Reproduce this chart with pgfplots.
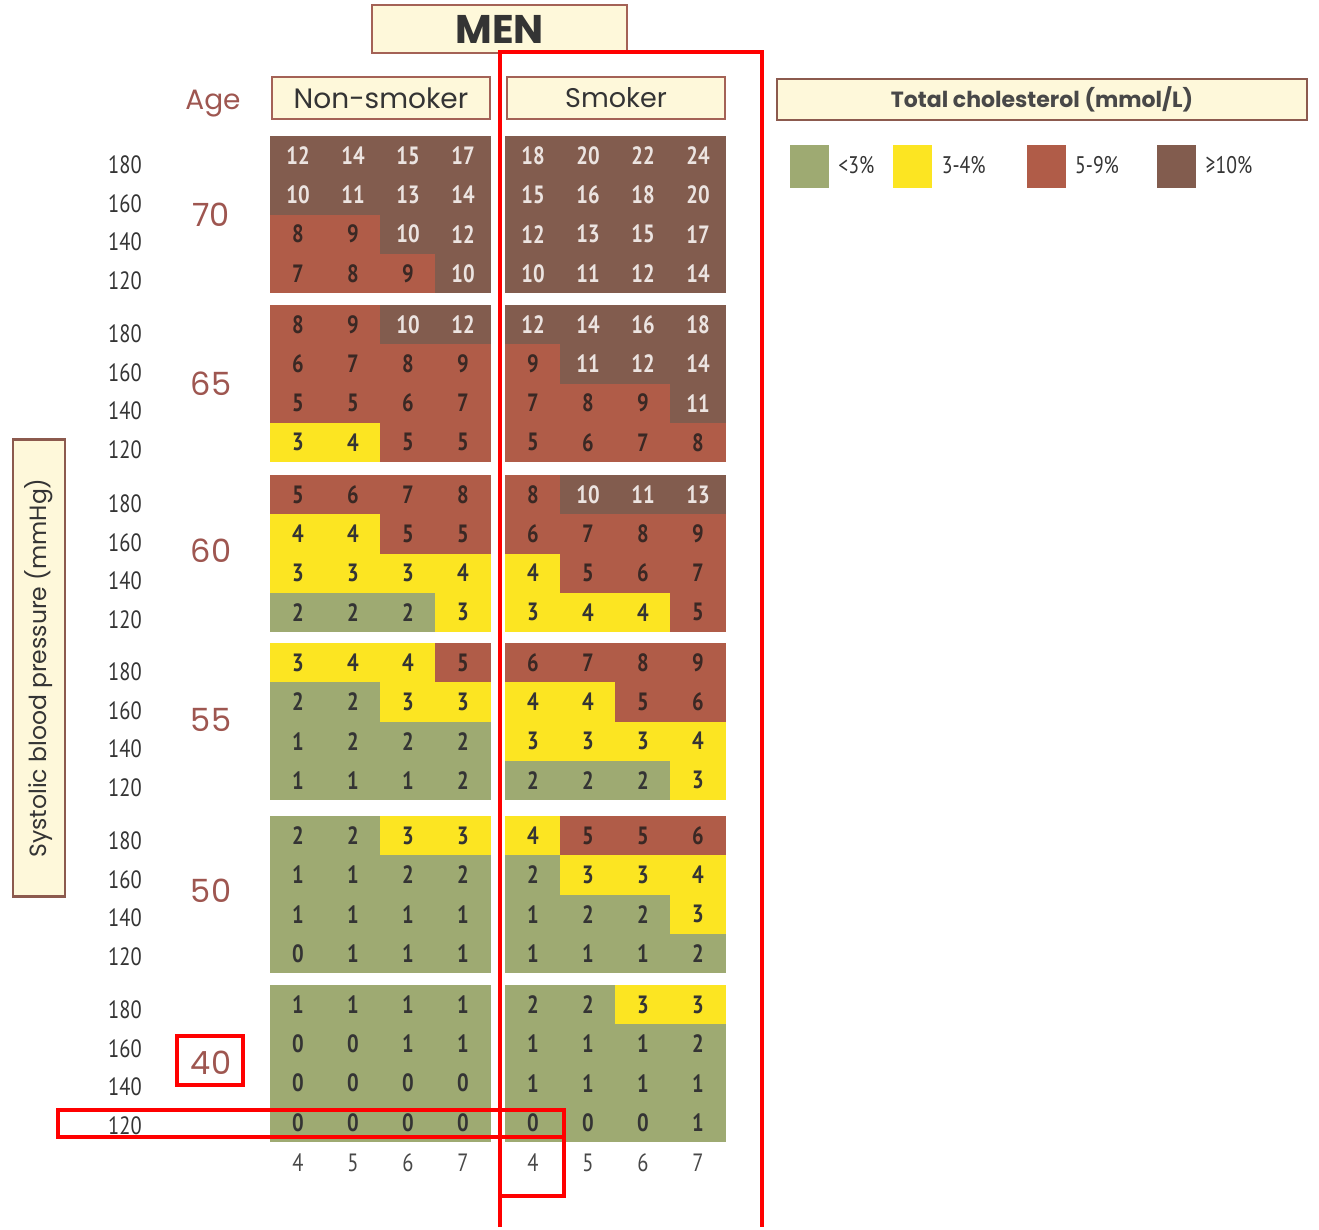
\documentclass[border=0pt]{standalone}
\usepackage{fontspec}
\setmainfont{Poppins}
\newfontfamily\numfont[FakeStretch=0.82]{PT Sans}
\usepackage{pgfplots}
\usepackage{pgfplotstable}
\pgfplotsset{compat=1.18}

\definecolor{riskA}{RGB}{158,170,114}
\definecolor{riskB}{RGB}{252,229,34}
\definecolor{riskC}{RGB}{176,92,72}
\definecolor{riskD}{RGB}{130,92,78}
\definecolor{cream}{RGB}{254,248,218}
\definecolor{boxline}{RGB}{164,98,86}
\definecolor{boxline2}{RGB}{140,90,78}
\definecolor{agecol}{RGB}{158,86,80}
\definecolor{ink}{RGB}{52,52,52}
\definecolor{inkred}{RGB}{58,40,36}
\definecolor{inkbrown}{RGB}{236,228,225}

% one cell of the chart, 55 x 39.25 px
\pgfdeclareplotmark{cell}{%
  \pgfpathrectangle{\pgfpoint{-27.7pt}{-19.8pt}}{\pgfpoint{55.4pt}{39.6pt}}%
  \pgfusepath{fill}}

% smk: 0 non-smoker, 1 smoker; r4..r7: 10-year risk (%) at total cholesterol 4..7 mmol/L
\pgfplotstableread{
smk age sbp r4 r5 r6 r7
0 70 180 12 14 15 17
0 70 160 10 11 13 14
0 70 140  8  9 10 12
0 70 120  7  8  9 10
0 65 180  8  9 10 12
0 65 160  6  7  8  9
0 65 140  5  5  6  7
0 65 120  3  4  5  5
0 60 180  5  6  7  8
0 60 160  4  4  5  5
0 60 140  3  3  3  4
0 60 120  2  2  2  3
0 55 180  3  4  4  5
0 55 160  2  2  3  3
0 55 140  1  2  2  2
0 55 120  1  1  1  2
0 50 180  2  2  3  3
0 50 160  1  1  2  2
0 50 140  1  1  1  1
0 50 120  0  1  1  1
0 40 180  1  1  1  1
0 40 160  0  0  1  1
0 40 140  0  0  0  0
0 40 120  0  0  0  0
1 70 180 18 20 22 24
1 70 160 15 16 18 20
1 70 140 12 13 15 17
1 70 120 10 11 12 14
1 65 180 12 14 16 18
1 65 160  9 11 12 14
1 65 140  7  8  9 11
1 65 120  5  6  7  8
1 60 180  8 10 11 13
1 60 160  6  7  8  9
1 60 140  4  5  6  7
1 60 120  3  4  4  5
1 55 180  6  7  8  9
1 55 160  4  4  5  6
1 55 140  3  3  3  4
1 55 120  2  2  2  3
1 50 180  4  5  5  6
1 50 160  2  3  3  4
1 50 140  1  2  2  3
1 50 120  1  1  1  2
1 40 180  2  2  3  3
1 40 160  1  1  1  2
1 40 140  1  1  1  1
1 40 120  0  0  0  1
}\risktab

% #1 cholesterol column, #2 risk range, #3 cell colour, #4 text colour
\newcommand\riskcells[4]{%
  \addplot[forget plot, only marks, mark=cell, mark options={fill=#3},
    restrict expr to domain={\thisrow{r#1}}{#2},
    point meta=explicit symbolic, nodes near coords,
    every node near coord/.append style={anchor=center, inner sep=0pt,
      text=#4, font=\numfont\bfseries\fontsize{25}{25}\selectfont}]
    table[x expr={298+55*(#1-4)+235*\thisrow{smk}},
      y expr={(\thisrow{age}==70 ? 136 : (\thisrow{age}==65 ? 305 :
              (\thisrow{age}==60 ? 475 : (\thisrow{age}==55 ? 643 :
              (\thisrow{age}==50 ? 816 : 985)))))
              + (180-\thisrow{sbp})*1.9625 + 19.6},
      meta=r#1] {\risktab};
}

\begin{document}
\begin{tikzpicture}
\begin{axis}[
  scale only axis, width=1319pt, height=1227pt,
  xmin=0, xmax=1319, ymin=0, ymax=1227, y dir=reverse,
  hide axis, clip=false,
  legend columns=4,
  legend style={at={(axis cs:790,166)}, anchor=west, draw=none, fill=none,
    inner sep=0pt, outer sep=0pt, text=ink,
    font=\numfont\fontsize{24}{24}\selectfont,
    cells={inner sep=0pt, anchor=west},
    /tikz/every odd column/.append style={column sep=8pt},
    /tikz/every even column/.append style={column sep=0pt}},
]
\addplot[forget plot, draw=none] coordinates {(0,0) (1319,1227)};

\pgfplotsinvokeforeach{4,5,6,7}{
  \riskcells{#1}{0:2}{riskA}{ink}
  \riskcells{#1}{3:4}{riskB}{ink}
  \riskcells{#1}{5:9}{riskC}{inkred}
  \riskcells{#1}{10:99}{riskD}{inkbrown}
}

\addlegendimage{legend image code/.code={\fill[riskA] (0pt,-21pt) rectangle (38pt,21pt);}}
\addlegendentry{\makebox[53pt][l]{<3\%}}
\addlegendimage{legend image code/.code={\fill[riskB] (0pt,-21pt) rectangle (38pt,21pt);}}
\addlegendentry{\makebox[83pt][l]{3-4\%}}
\addlegendimage{legend image code/.code={\fill[riskC] (0pt,-21pt) rectangle (38pt,21pt);}}
\addlegendentry{\makebox[80pt][l]{5-9\%}}
\addlegendimage{legend image code/.code={\fill[riskD] (0pt,-21pt) rectangle (38pt,21pt);}}
\addlegendentry{\makebox[50pt][l]{≥10\%}}

% headers
\node[draw=boxline, line width=2.5pt, fill=cream, minimum width=255pt, minimum height=48pt,
  font=\fontsize{40}{40}\selectfont\bfseries, text=ink] at (axis cs:499.5,29) {MEN};
\node[draw=boxline, line width=2.5pt, fill=cream, minimum width=218pt, minimum height=42pt,
  font=\fontsize{28}{28}\selectfont, text=ink] at (axis cs:381,98) {Non-smoker};
\node[draw=boxline, line width=2.5pt, fill=cream, minimum width=218pt, minimum height=42pt,
  font=\fontsize{27}{27}\selectfont, text=ink] at (axis cs:616,98) {Smoker};
\node[draw=boxline2, line width=2.5pt, fill=cream, minimum width=530pt, minimum height=41pt,
  font=\fontsize{22}{22}\selectfont\bfseries, text=ink!90] at (axis cs:1042,99.5) {Total cholesterol (mmol/L)};
\node[draw=boxline2, line width=2.5pt, fill=cream, minimum width=457pt, minimum height=52pt,
  rotate=90, font=\fontsize{23.5}{23.5}\selectfont, text=ink] at (axis cs:39,668) {Systolic blood pressure (mmHg)};

% age labels
\node[font=\fontsize{28}{28}\selectfont, text=agecol] at (axis cs:213,104) {Age};
\node[font=\fontsize{32}{32}\selectfont, text=agecol] at (axis cs:211,215) {70};
\node[font=\fontsize{32}{32}\selectfont, text=agecol] at (axis cs:211,384) {65};
\node[font=\fontsize{32}{32}\selectfont, text=agecol] at (axis cs:211,551) {60};
\node[font=\fontsize{32}{32}\selectfont, text=agecol] at (axis cs:211,720) {55};
\node[font=\fontsize{32}{32}\selectfont, text=agecol] at (axis cs:211,891) {50};
\node[font=\fontsize{32}{32}\selectfont, text=agecol] at (axis cs:211,1063) {40};

% systolic blood pressure labels
\pgfplotsinvokeforeach{165,334,504,672,841,1010}{
  \node[font=\numfont\fontsize{25}{25}\selectfont, text=ink] at (axis cs:125,#1) {180};
  \node[font=\numfont\fontsize{25}{25}\selectfont, text=ink] at (axis cs:125,#1+39) {160};
  \node[font=\numfont\fontsize{25}{25}\selectfont, text=ink] at (axis cs:125,#1+77) {140};
  \node[font=\numfont\fontsize{25}{25}\selectfont, text=ink] at (axis cs:125,#1+116) {120};
}

% cholesterol labels
\pgfplotsinvokeforeach{4,5,6,7}{
  \node[font=\numfont\fontsize{25}{25}\selectfont, text=ink!90] at (axis cs:{298+55*#1-220},1163) {#1};
  \node[font=\numfont\fontsize{25}{25}\selectfont, text=ink!90] at (axis cs:{533+55*#1-220},1163) {#1};
}

% anchor points for the red annotations
\coordinate (v0) at (axis cs:500,1227);
\coordinate (v1) at (axis cs:500,52);
\coordinate (v2) at (axis cs:762,52);
\coordinate (v3) at (axis cs:762,1227);
\coordinate (a0) at (axis cs:177,1036);
\coordinate (a1) at (axis cs:243,1085);
\coordinate (h0) at (axis cs:58,1110);
\coordinate (h1) at (axis cs:564,1137);
\coordinate (c0) at (axis cs:500,1110);
\coordinate (c1) at (axis cs:564,1196);
\end{axis}
% red annotations on top of the cells
\draw[red, line width=4pt] (v0) -- (v1) -- (v2) -- (v3);
\draw[red, line width=4pt] (a0) rectangle (a1);
\draw[red, line width=4pt] (h0) rectangle (h1);
\draw[red, line width=4pt] (c0) rectangle (c1);
\end{tikzpicture}
\end{document}
